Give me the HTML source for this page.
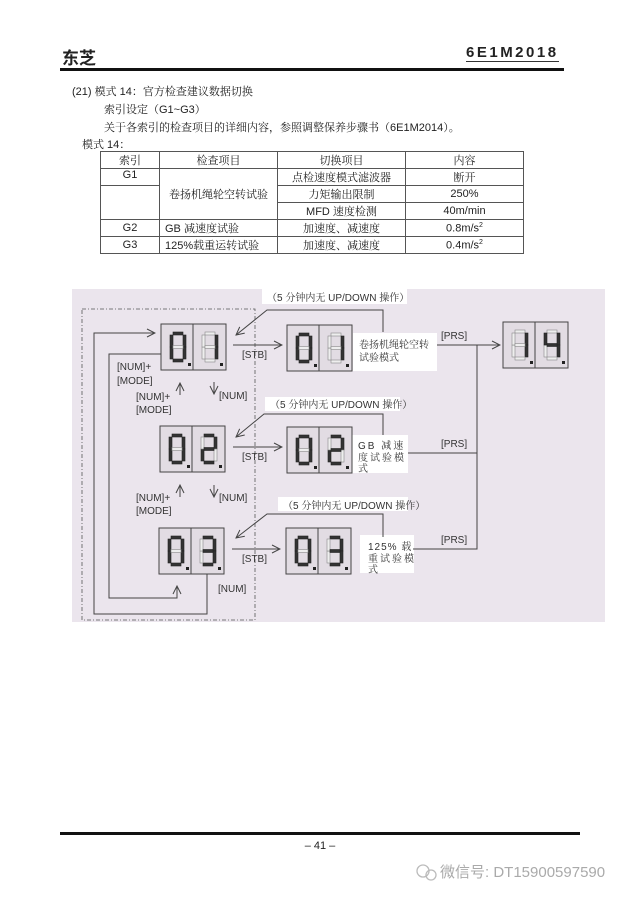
<!DOCTYPE html>
<html><head><meta charset="utf-8">
<style>
body{margin:0;width:640px;height:903px;background:#fff;position:relative;overflow:hidden;font-family:"Liberation Sans","Noto Serif CJK SC","Noto Sans CJK SC",sans-serif;color:#222}
.a{position:absolute;white-space:nowrap}
table{position:absolute;left:100px;top:151px;border-collapse:collapse;font-size:11px}
td{border:1px solid #555;height:16px;padding:0;text-align:center}
</style></head><body>
<div class="a" style="left:62px;top:44px;font-size:17px;font-weight:bold;font-family:'Noto Sans CJK SC',sans-serif">东芝</div>
<div class="a" style="left:466px;top:44px;font-size:15px;font-weight:bold;letter-spacing:2.5px;border-bottom:1px solid #333;line-height:17px">6E1M2018</div>
<div class="a" style="left:60px;top:68px;width:504px;height:3px;background:#111"></div>
<div class="a" style="left:72px;top:83px;font-size:11px">(21) 模式 14：官方检查建议数据切换</div>
<div class="a" style="left:104px;top:101px;font-size:11px">索引设定（G1~G3）</div>
<div class="a" style="left:104px;top:119px;font-size:11px">关于各索引的检查项目的详细内容，参照调整保养步骤书（6E1M2014）。</div>
<div class="a" style="left:82px;top:136px;font-size:11px">模式 14：</div>
<table>
<tr><td style="width:58px">索引</td><td style="width:117px">检查项目</td><td style="width:127px">切换项目</td><td style="width:117px">内容</td></tr>
<tr><td style="vertical-align:top">G1</td><td rowspan="3">卷扬机绳轮空转试验</td><td>点检速度模式滤波器</td><td>断开</td></tr>
<tr><td rowspan="2"></td><td>力矩输出限制</td><td>250%</td></tr>
<tr><td>MFD 速度检测</td><td>40m/min</td></tr>
<tr><td>G2</td><td style="text-align:left;padding-left:5px">GB 减速度试验</td><td>加速度、减速度</td><td>0.8m/s<sup style="font-size:7px">2</sup></td></tr>
<tr><td>G3</td><td style="text-align:left;padding-left:5px">125%载重运转试验</td><td>加速度、减速度</td><td>0.4m/s<sup style="font-size:7px">2</sup></td></tr>
</table>

<svg class="a" style="left:0;top:0" width="640" height="903" id="d">
<defs><marker id="ar" markerWidth="10" markerHeight="10" refX="9" refY="5" orient="auto" markerUnits="userSpaceOnUse"><path d="M1,1 L9,5 L1,9" fill="none" stroke="#444" stroke-width="1"/></marker></defs>
<rect x="72" y="289" width="533" height="333" fill="#ebe5ed"/>
<rect x="82" y="309" width="173" height="311" fill="none" stroke="#555" stroke-dasharray="4,2,1,2" stroke-width="0.8"/>
<g fill="#fff">
<rect x="262" y="289" width="145" height="15"/><rect x="265" y="397" width="135" height="14"/><rect x="278" y="497" width="130" height="14"/>
<rect x="353" y="333" width="84" height="38"/><rect x="352" y="435" width="56" height="38"/><rect x="360" y="535" width="54" height="38"/>
</g>
<g stroke="#444" stroke-width="1" fill="none">
<path d="M233,345 H282" marker-end="url(#ar)"/><path d="M233,447 H282" marker-end="url(#ar)"/><path d="M232,549 H280" marker-end="url(#ar)"/>
<path d="M383,332 V310 H267 L236,335" marker-end="url(#ar)"/>
<path d="M383,435 V414 H264 L236,437" marker-end="url(#ar)"/>
<path d="M383,537 V514 H267 L236,538" marker-end="url(#ar)"/>
<path d="M437,345 H500" marker-end="url(#ar)"/><path d="M477,345 V549 H413"/><path d="M408,453 H477"/>
<path d="M207,574 V614 H94 V333 H155" marker-end="url(#ar)"/>
<path d="M161,354 H109 V598 H177 V586" marker-end="url(#ar)"/>
<path d="M180,395 V383" marker-end="url(#ar)"/><path d="M214,382 V394" marker-end="url(#ar)"/>
<path d="M180,497 V485" marker-end="url(#ar)"/><path d="M214,485 V497" marker-end="url(#ar)"/>
</g>
<g font-size="10" fill="#333" font-family="Liberation Sans,Noto Serif CJK SC,sans-serif">
<text x="267" y="301">（5 分钟内无 UP/DOWN 操作）</text>
<text x="270" y="408">（5 分钟内无 UP/DOWN 操作）</text>
<text x="283" y="509">（5 分钟内无 UP/DOWN 操作）</text>
<text x="359" y="348">卷扬机绳轮空转</text><text x="359" y="361">试验模式</text>
<text x="358" y="449" letter-spacing="2">GB 减速</text><text x="358" y="461" letter-spacing="2">度试验模</text><text x="358" y="472">式</text>
<text x="368" y="550" letter-spacing="1">125%  载</text><text x="368" y="562" letter-spacing="2">重试验模</text><text x="368" y="573">式</text>
<text x="441" y="339">[PRS]</text><text x="441" y="447">[PRS]</text><text x="441" y="543">[PRS]</text>
<text x="242" y="358">[STB]</text><text x="242" y="460">[STB]</text><text x="242" y="562">[STB]</text>
<text x="117" y="370">[NUM]+</text><text x="117" y="384">[MODE]</text>
<text x="136" y="400">[NUM]+</text><text x="136" y="413">[MODE]</text><text x="219" y="399">[NUM]</text>
<text x="136" y="501">[NUM]+</text><text x="136" y="514">[MODE]</text><text x="219" y="501">[NUM]</text>
<text x="218" y="592">[NUM]</text>
</g>
<g id="disp"></g>
<rect x="60" y="832" width="520" height="3" fill="#111"/>
<text x="320" y="849" font-size="11" text-anchor="middle" fill="#222">– 41 –</text>
<g stroke="#bbb" fill="none" stroke-width="1.3"><circle cx="423" cy="871" r="6"/><circle cx="431" cy="875" r="5"/></g>
<text x="440" y="877" font-size="15" fill="#aaa" font-family="Liberation Sans,Noto Sans CJK SC,sans-serif">微信号: DT15900597590</text>
</svg>
<script>
var NS="http://www.w3.org/2000/svg",g=document.getElementById("disp");
function el(n,a){var e=document.createElementNS(NS,n);for(var k in a)e.setAttribute(k,a[k]);g.appendChild(e);return e;}
var S={0:"abcdef",1:"bc",2:"abged",3:"abgcd",4:"fgbc",8:"abcdefg"};
function digit(x,y,ch){var w=16,h=30,t=3,on=S[ch];
var seg={a:[x+t,y,w-2*t,t],b:[x+w-t,y+t,t,h/2-t],c:[x+w-t,y+h/2,t,h/2-t],d:[x+t,y+h-t,w-2*t,t],e:[x,y+h/2,t,h/2-t],f:[x,y+t,t,h/2-t],g:[x+t,y+h/2-t/2,w-2*t,t]};
for(var s in seg){var r=seg[s];var lit=on.indexOf(s)>=0;
el("rect",{x:r[0],y:r[1],width:r[2],height:r[3],fill:lit?"#333":"#eee",stroke:lit?"#222":"#888","stroke-width":0.6});}}
function box(x,y,d1,d2){el("rect",{x:x,y:y,width:65,height:46,fill:"#e2dce3",stroke:"#444","stroke-width":1});
el("line",{x1:x+32,y1:y,x2:x+32,y2:y+46,stroke:"#444"});
digit(x+9,y+8,d1);digit(x+41,y+8,d2);
el("rect",{x:x+27,y:y+39,width:3,height:3,fill:"#222"});el("rect",{x:x+59,y:y+39,width:3,height:3,fill:"#222"});}
box(161,324,"0","1");box(287,325,"0","1");
box(160,426,"0","2");box(287,427,"0","2");
box(159,528,"0","3");box(286,528,"0","3");
box(503,322,"1","4");
</script>
</body></html>
